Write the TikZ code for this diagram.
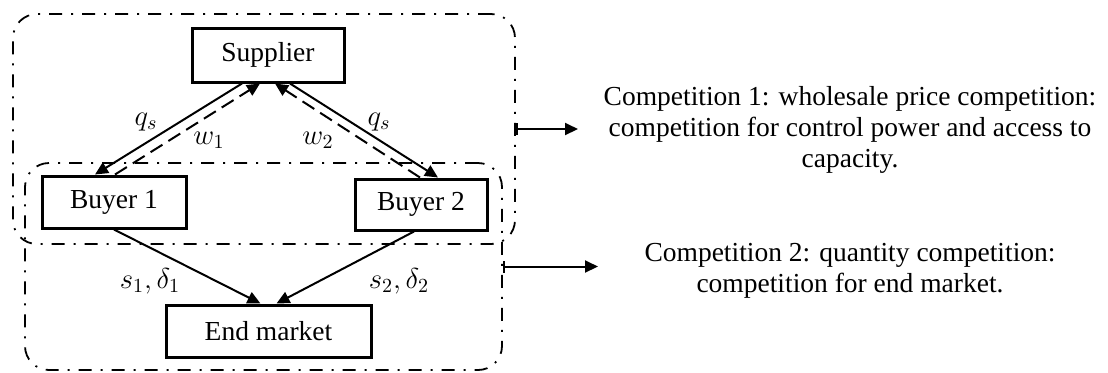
\documentclass[tikz,border=0pt]{standalone}
\usepackage{fontspec}
\setmainfont{Liberation Serif}
\usetikzlibrary{arrows.meta}
\begin{document}
\begin{tikzpicture}[x=0.5pt,y=-0.5pt,
  every node/.style={font=\fontsize{13.75}{15.5}\selectfont},
  agent/.style={draw, line width=1.5pt, inner sep=0pt},
  flow/.style={line width=1pt, -{Triangle[length=6.5pt,width=6pt]}},
  bid/.style={flow, dash pattern=on 7pt off 3.5pt},
  group/.style={draw, line width=0.9pt, rounded corners=12pt,
    dash pattern=on 6.5pt off 4.5pt on 1pt off 4.5pt, inner sep=0pt},
  pointer/.style={line width=1pt, {Bar[width=6pt]}-{Triangle[length=6.5pt,width=6pt]}},
  note/.style={align=center, inner sep=0pt}
]
\useasboundingbox (0,0) rectangle (1108,372);

% the two competition groups
\node[group, minimum width=251pt, minimum height=115pt] (g1) at (264,129) {};
\node[group, minimum width=238.5pt, minimum height=103.5pt] (g2) at (263.5,266.5) {};

% agents
\node[agent, minimum width=76pt, minimum height=27pt] (sup) at (268,55) {Supplier};
\node[agent, minimum width=72pt, minimum height=26pt] (b1) at (114,202) {Buyer 1};
\node[agent, minimum width=66pt, minimum height=25.5pt] (b2) at (421,204.5) {Buyer 2};
\node[agent, minimum width=102.5pt, minimum height=26pt] (mkt) at (268.5,331) {End market};

% supply and wholesale prices
\draw[flow] ([xshift=-13pt]sup.south) -- ([xshift=-9.5pt]b1.north);
\draw[bid] ([xshift=0.5pt]b1.north) -- ([xshift=-4pt]sup.south);
\draw[bid] ([xshift=-0.5pt]b2.north) -- ([xshift=3.5pt]sup.south);
\draw[flow] ([xshift=11pt]sup.south) -- ([xshift=8.5pt]b2.north);

% sales to the end market
\draw[flow] (b1.south) -- ([xshift=-4pt]mkt.north);
\draw[flow] ([xshift=-3.5pt]b2.south) -- ([xshift=4pt]mkt.north);

% labels
\node (lq1) at (146,122) {$q_s$};
\node (lw1) at (209,140) {$w_1$};
\node (lw2) at (318,140) {$w_2$};
\node (lq2) at (379,122) {$q_s$};
\node (ls1) at (150,281) {$s_1,\delta_1$};
\node (ls2) at (399,281) {$s_2,\delta_2$};

% descriptions
\node[note] (t1) at (850,130) {Competition 1: wholesale price competition:\\competition for control power and access to\\capacity.};
\node[note] (t2) at (850,271) {Competition 2: quantity competition:\\competition for end market.};

\coordinate (p1) at (578,129);
\coordinate (p2) at (598,266.5);
\draw[pointer] (g1.east) -- (p1);
\draw[pointer] (g2.east) -- (p2);
\end{tikzpicture}
\end{document}
